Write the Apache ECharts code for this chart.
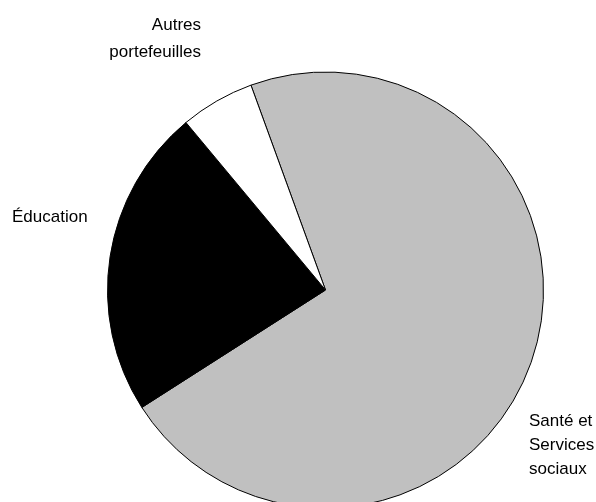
<!DOCTYPE html>
<html>
<head>
<meta charset="utf-8">
<script src="https://cdn.jsdelivr.net/npm/echarts@6/dist/echarts.min.js"></script>
<style>
  html, body { margin: 0; padding: 0; background: #fff; }
  #chart { width: 596px; height: 502px; }
</style>
</head>
<body>
<div id="chart"></div>
<script>
// Répartition des dépenses par portefeuille (%)
const categories = ['Santé et\nServices\nsociaux', 'Éducation', 'Autres\nportefeuilles'];
const shares = [71.5, 23.0, 5.5];
const colors = ['#c0c0c0', '#000000', '#ffffff'];

// Label placement per slice: anchor point, alignment and line height
const labelSpots = [
  { x: 529, y: 445, align: 'left', lineHeight: 24 },
  { x: 12, y: 217, align: 'left', lineHeight: 24 },
  { x: 201, y: 39, align: 'right', lineHeight: 27 }
];

const chart = echarts.init(document.getElementById('chart'), null, { renderer: 'canvas' });

chart.setOption({
  animation: false,
  backgroundColor: '#ffffff',
  series: [{
    type: 'pie',
    center: [325.5, 290],
    radius: 218,
    startAngle: 110,
    clockwise: true,
    avoidLabelOverlap: false,
    itemStyle: { borderColor: '#000', borderWidth: 1 },
    emphasis: { disabled: true },
    label: {
      show: true,
      position: 'outside',
      color: '#000',
      fontFamily: 'Liberation Sans, Arial, sans-serif',
      fontSize: 17
    },
    labelLine: { show: false },
    labelLayout: function (params) {
      const s = labelSpots[params.dataIndex];
      return { x: s.x, y: s.y, align: s.align, verticalAlign: 'middle' };
    },
    data: categories.map((name, i) => ({
      name: name,
      value: shares[i],
      itemStyle: { color: colors[i] },
      label: { align: labelSpots[i].align, lineHeight: labelSpots[i].lineHeight }
    }))
  }]
});
</script>
</body>
</html>
